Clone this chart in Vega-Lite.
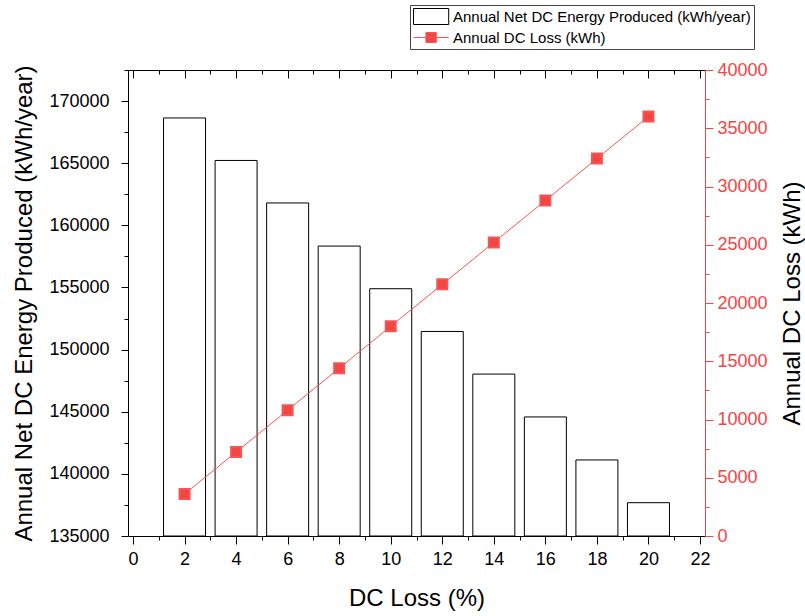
{
  "$schema": "https://vega.github.io/schema/vega-lite/v6.json",
  "width": 577,
  "height": 466,
  "autosize": {"type": "none"},
  "padding": {"left": 128, "top": 70, "right": 100, "bottom": 80},
  "background": "white",
  "config": {
    "font": "Liberation Sans",
    "view": {"stroke": null},
    "axis": {
      "grid": false,
      "labelFont": "Liberation Sans",
      "titleFont": "Liberation Sans",
      "titleFontWeight": "normal",
      "labelFontSize": 18,
      "titleFontSize": 24,
      "labelColor": "black",
      "titleColor": "black",
      "domainColor": "black",
      "tickColor": "black",
      "domainWidth": 1,
      "tickWidth": 1,
      "labelOverlap": false,
      "labelFlush": false,
      "labelBound": false
    }
  },
  "data": {
    "values": [
      {"loss": 2, "energy": 168640, "dcloss": 3600},
      {"loss": 4, "energy": 165220, "dcloss": 7200},
      {"loss": 6, "energy": 161800, "dcloss": 10800},
      {"loss": 8, "energy": 158330, "dcloss": 14400},
      {"loss": 10, "energy": 154900, "dcloss": 18000},
      {"loss": 12, "energy": 151460, "dcloss": 21600},
      {"loss": 14, "energy": 148030, "dcloss": 25200},
      {"loss": 16, "energy": 144580, "dcloss": 28800},
      {"loss": 18, "energy": 141120, "dcloss": 32400},
      {"loss": 20, "energy": 137680, "dcloss": 36000}
    ]
  },
  "layer": [
    {
      "mark": {"type": "bar", "width": 42, "fill": "white", "strokeWidth": 1, "fillOpacity": 1},
      "encoding": {
        "x": {
          "field": "loss",
          "type": "quantitative",
          "scale": {"domain": [0, 22], "nice": false, "zero": false},
          "axis": {
            "orient": "bottom",
            "values": [0,1,2,3,4,5,6,7,8,9,10,11,12,13,14,15,16,17,18,19,20,21,22],
            "labelExpr": "datum.value % 2 === 0 ? datum.label : ''",
            "tickSize": {"condition": {"test": "datum.value % 2 === 0", "value": 8}, "value": 4},
            "labelPadding": 6,
            "title": "DC Loss (%)",
            "titlePadding": 18
          }
        },
        "y": {
          "field": "energy",
          "type": "quantitative",
          "scale": {"domain": [135000, 172500], "nice": false, "zero": false},
          "axis": {
            "orient": "left",
            "values": [135000,137500,140000,142500,145000,147500,150000,152500,155000,157500,160000,162500,165000,167500,170000,172500],
            "format": "d",
            "labelExpr": "datum.value % 5000 === 0 ? datum.label : ''",
            "tickSize": {"condition": {"test": "datum.value % 5000 === 0", "value": 7}, "value": 4},
            "labelPadding": 12,
            "title": "Annual Net DC Energy Produced (kWh/year)",
            "titlePadding": 12
          }
        },
        "y2": {"datum": 135000},
        "stroke": {
          "datum": "Annual Net DC Energy Produced (kWh/year)",
          "type": "nominal",
          "scale": {
            "domain": ["Annual Net DC Energy Produced (kWh/year)", "Annual DC Loss (kWh)"],
            "range": ["black", "#F45555"]
          },
          "legend": {
            "title": null,
            "orient": "none",
            "legendX": 282,
            "legendY": -65,
            "direction": "vertical",
            "padding": 3,
            "strokeColor": "#444444",
            "fillColor": "white",
            "labelFont": "Liberation Sans",
            "labelFontSize": 15,
            "labelColor": "black",
            "labelLimit": 500,
            "labelOffset": 23,
            "rowPadding": 2,
            "symbolSize": 256,
            "symbolStrokeWidth": 1,
            "encode": {
              "symbols": {
                "update": {
                  "shape": {"signal": "datum.value === 'Annual DC Loss (kWh)' ? 'M-1,0H3.4M0.55,-0.62H1.85V0.62H0.55Z' : 'M-1,-1H3.4V1H-1Z'"},
                  "fill": {"signal": "datum.value === 'Annual DC Loss (kWh)' ? '#F44545' : 'white'"},
                  "strokeWidth": {"value": 1},
                  "opacity": {"value": 1},
                  "fillOpacity": {"value": 1},
                  "strokeOpacity": {"value": 1}
                }
              }
            }
          }
        }
      }
    },
    {
      "mark": {"type": "line", "strokeWidth": 1, "point": {"shape": "square", "size": 100, "filled": true, "fill": "#F44545", "opacity": 1}},
      "encoding": {
        "x": {
          "field": "loss",
          "type": "quantitative",
          "scale": {"domain": [0, 22], "nice": false, "zero": false},
          "axis": {
            "orient": "top",
            "values": [0,1,2,3,4,5,6,7,8,9,10,11,12,13,14,15,16,17,18,19,20,21,22],
            "labels": false,
            "tickSize": {"condition": {"test": "datum.value % 2 === 0", "value": -8}, "value": -4},
            "title": null
          }
        },
        "y": {
          "field": "dcloss",
          "type": "quantitative",
          "scale": {"domain": [0, 40000], "nice": false, "zero": true},
          "axis": {
            "orient": "right",
            "values": [0,2500,5000,7500,10000,12500,15000,17500,20000,22500,25000,27500,30000,32500,35000,37500,40000],
            "format": "d",
            "labelExpr": "datum.value % 5000 === 0 ? datum.label : ''",
            "tickSize": {"condition": {"test": "datum.value % 5000 === 0", "value": 8}, "value": 4},
            "domainColor": "#F44545",
            "tickColor": "#F44545",
            "labelColor": "#F44545",
            "labelPadding": 4,
            "title": "Annual DC Loss (kWh)",
            "titleAngle": 270,
            "titleColor": "black",
            "titlePadding": 37
          }
        },
        "stroke": {
          "datum": "Annual DC Loss (kWh)",
          "type": "nominal",
          "legend": {
            "title": null,
            "orient": "none",
            "legendX": 282,
            "legendY": -65,
            "direction": "vertical",
            "padding": 3,
            "strokeColor": "#444444",
            "fillColor": "white",
            "labelFont": "Liberation Sans",
            "labelFontSize": 15,
            "labelColor": "black",
            "labelLimit": 500,
            "labelOffset": 23,
            "rowPadding": 2,
            "symbolSize": 256,
            "symbolStrokeWidth": 1,
            "encode": {
              "symbols": {
                "update": {
                  "shape": {"signal": "datum.value === 'Annual DC Loss (kWh)' ? 'M-1,0H3.4M0.55,-0.62H1.85V0.62H0.55Z' : 'M-1,-1H3.4V1H-1Z'"},
                  "fill": {"signal": "datum.value === 'Annual DC Loss (kWh)' ? '#F44545' : 'white'"},
                  "strokeWidth": {"value": 1},
                  "opacity": {"value": 1},
                  "fillOpacity": {"value": 1},
                  "strokeOpacity": {"value": 1}
                }
              }
            }
          }
        }
      }
    }
  ],
  "resolve": {"scale": {"y": "independent"}, "axis": {"x": "independent", "y": "independent"}}
}
